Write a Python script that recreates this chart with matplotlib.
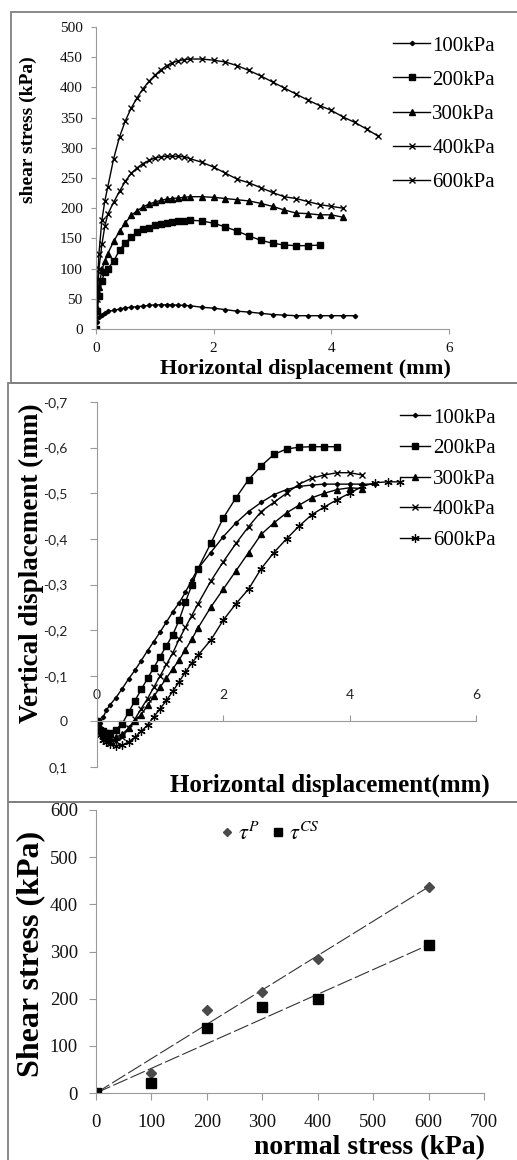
import matplotlib
matplotlib.use("Agg")
import matplotlib.pyplot as plt
from matplotlib.patches import Rectangle

W, H = 517, 1160
SERIF = "Liberation Serif"
SANS = "Lato"
plt.rcParams["font.family"] = SERIF
plt.rcParams["mathtext.fontset"] = "stix"

# displacement grid (mm) shared by the test curves
XT = [0, 0.02, 0.05, 0.1, 0.15, 0.2, 0.3, 0.4, 0.5, 0.6, 0.7, 0.8, 0.9, 1.0,
      1.1, 1.2, 1.3, 1.4, 1.5, 1.6, 1.8, 2.0, 2.2, 2.4, 2.6, 2.8, 3.0, 3.2,
      3.4, 3.6, 3.8, 4.0, 4.2, 4.4, 4.6, 4.8]
labels = ["100kPa", "200kPa", "300kPa", "400kPa", "600kPa"]

# shear stress (kPa)
s100 = [0, 12, 20, 24, 27, 29, 31, 33, 35, 36, 37, 38, 39, 40, 40, 40, 40, 39.5,
        39, 38.5, 36, 34.5, 32, 29.5, 28, 26, 24, 23, 22, 22, 22, 22, 22, 22]
s200 = [0, 30, 55, 80, 95, 100, 112, 131, 143, 152, 160, 165, 168, 172, 174, 176,
        177, 178, 179, 180, 179, 175, 169, 162, 154, 147, 142, 139, 138, 138, 139]
s300 = [0, 35, 70, 98, 112, 125, 145, 162, 176, 188, 196, 202, 207, 210, 213, 215,
        216, 217, 218, 219, 219, 218, 216, 214, 212, 208, 203, 197, 192, 191, 189,
        189, 185]
s400 = [0, 50, 100, 140, 170, 190, 210, 228, 245, 258, 267, 274, 279, 283, 285,
        286, 286, 286, 285, 282, 276, 268, 258, 248, 242, 234, 226, 219, 216, 211,
        206, 203, 200]
s600 = [0, 65, 125, 180, 212, 235, 282, 318, 345, 366, 383, 398, 410, 420, 429,
        436, 441, 444, 446, 447, 447, 445, 442, 436, 428, 419, 409, 399, 389, 379,
        370, 362, 351, 342, 331, 319]

# vertical displacement (mm), negative = dilation
v100 = [0, 0.003, 0.004, -0.01, -0.025, -0.035, -0.052, -0.072, -0.093, -0.112,
        -0.133, -0.155, -0.175, -0.196, -0.218, -0.24, -0.26, -0.283, -0.31, -0.335,
        -0.37, -0.405, -0.435, -0.46, -0.48, -0.497, -0.508, -0.515, -0.518, -0.52,
        -0.52, -0.52, -0.52, -0.52]
v200 = [0, 0.01, 0.018, 0.022, 0.025, 0.025, 0.018, 0.005, -0.02, -0.045, -0.07,
        -0.094, -0.118, -0.142, -0.166, -0.19, -0.222, -0.262, -0.298, -0.335,
        -0.39, -0.446, -0.49, -0.53, -0.56, -0.585, -0.597, -0.601, -0.602, -0.602,
        -0.602]
v300 = [0, 0.012, 0.022, 0.03, 0.034, 0.036, 0.035, 0.028, 0.015, 0.0, -0.015,
        -0.035, -0.055, -0.075, -0.095, -0.115, -0.135, -0.157, -0.18, -0.205,
        -0.25, -0.29, -0.33, -0.37, -0.41, -0.435, -0.457, -0.474, -0.49, -0.5,
        -0.508, -0.512, -0.51]
v400 = [0, 0.015, 0.028, 0.038, 0.043, 0.045, 0.043, 0.035, 0.015, -0.005, -0.028,
        -0.05, -0.075, -0.1, -0.125, -0.15, -0.18, -0.206, -0.232, -0.258, -0.307,
        -0.35, -0.39, -0.427, -0.46, -0.48, -0.5, -0.52, -0.533, -0.54, -0.545,
        -0.545, -0.54]
v600 = [0, 0.015, 0.03, 0.04, 0.046, 0.05, 0.053, 0.052, 0.045, 0.035, 0.022,
        0.008, -0.01, -0.028, -0.046, -0.066, -0.087, -0.108, -0.128, -0.145,
        -0.178, -0.222, -0.258, -0.29, -0.335, -0.37, -0.40, -0.428, -0.453, -0.47,
        -0.486, -0.50, -0.515, -0.523, -0.525, -0.525]

# failure envelope
normal = [0, 100, 200, 300, 400, 600]
tau_p = [0, 42, 177, 215, 284, 437]
tau_cs = [0, 22, 138, 183, 199, 314]
trend_x = [0, 600]
trend_p = [0, 437]
trend_cs = [0, 314]

v_ticks = [-0.7, -0.6, -0.5, -0.4, -0.3, -0.2, -0.1, 0, 0.1]
v_ticklabels = ["-0,7", "-0,6", "-0,5", "-0,4", "-0,3", "-0,2", "-0,1", "0", "0,1"]

GRID = "#9a9a9a"
STAR = (6, 2, 0)
styles = [dict(marker="D", ms=2.2), dict(marker="s", ms=4),
          dict(marker="^", ms=5), dict(marker="x", ms=5, mew=1),
          dict(marker="x", ms=5, mew=1)]
styles_mid = styles[:4] + [dict(marker=STAR, ms=6, mew=0.9)]


def fx(px):
    return px / W


def fy(py):
    return 1 - py / H


def axes_px(left, top, right, bottom):
    return [fx(left), fy(bottom), (right - left) / W, (bottom - top) / H]


fig = plt.figure(figsize=(W / 100, H / 100), dpi=100)

# panel frames
for (l, t, b) in [(11, 12, 383), (8, 383, 802), (8, 802, 1175)]:
    fig.add_artist(Rectangle((fx(l), fy(b)), 1.2, (b - t) / H, transform=fig.transFigure,
                             fill=False, ec="#808080", lw=1.3))

# ---- panel 1: shear stress vs horizontal displacement
ax1 = fig.add_axes(axes_px(96, 27, 449, 329))
for y, lab, st in zip([s100, s200, s300, s400, s600], labels, styles):
    ax1.plot(XT[:len(y)], y, color="black", lw=1.0, label=lab, **st)
ax1.set_xlim(0, 6)
ax1.set_ylim(0, 500)
ax1.set_xticks([0, 2, 4, 6])
ax1.set_yticks(range(0, 501, 50))
ax1.tick_params(color=GRID, labelcolor="#111", labelsize=11, length=3.5, pad=6)
for s in ["top", "right"]:
    ax1.spines[s].set_visible(False)
for s in ["left", "bottom"]:
    ax1.spines[s].set_color(GRID)
ax1.legend(loc="upper left", bbox_to_anchor=(fx(393), fy(36)), bbox_transform=fig.transFigure,
           frameon=False, fontsize=15, handlelength=1.78, handletextpad=0.1,
           labelspacing=0.7, borderpad=0, borderaxespad=0)
fig.text(fx(305), fy(369), "Horizontal displacement (mm)", ha="center", va="center",
         fontsize=16, fontweight="bold")
fig.text(fx(28), fy(130), "shear stress (kPa)", ha="center", va="center",
         rotation=90, fontsize=14, fontweight="bold")

# ---- panel 2: vertical vs horizontal displacement
ax2 = fig.add_axes(axes_px(97, 402, 476, 767))
for y, lab, st in zip([v100, v200, v300, v400, v600], labels, styles_mid):
    ax2.plot(XT[:len(y)], y, color="black", lw=1.0, label=lab, **st)
ax2.set_xlim(0, 6)
ax2.set_ylim(0.1, -0.7)
ax2.spines["top"].set_position(("data", 0))
ax2.xaxis.tick_top()
ax2.set_xticks([0, 2, 4, 6])
ax2.set_yticks(v_ticks)
ax2.set_yticklabels(v_ticklabels)
ax2.tick_params(axis="y", color=GRID, labelcolor="#222", length=5, pad=16)
ax2.tick_params(axis="x", color=GRID, labelcolor="#222", length=4, pad=11)
for lab in ax2.get_xticklabels() + ax2.get_yticklabels():
    lab.set_family(SANS)
    lab.set_fontsize(10)
for s in ["bottom", "right"]:
    ax2.spines[s].set_visible(False)
for s in ["left", "top"]:
    ax2.spines[s].set_color(GRID)
ax2.legend(loc="upper left", bbox_to_anchor=(fx(400), fy(408)), bbox_transform=fig.transFigure,
           frameon=False, fontsize=15, handlelength=1.45, handletextpad=0.12,
           labelspacing=0.53, borderpad=0, borderaxespad=0)
fig.text(fx(330), fy(785), "Horizontal displacement(mm)", ha="center", va="center",
         fontsize=18, fontweight="bold")
fig.text(fx(31), fy(563), "Vertical displacement (mm)", ha="center", va="center",
         rotation=90, fontsize=19.5, fontweight="bold")

# ---- panel 3: shear stress vs normal stress
ax3 = fig.add_axes(axes_px(96, 810, 484, 1093))
ax3.plot(trend_x, trend_p, color="#333", lw=0.8, dashes=(14, 3))
ax3.plot(trend_x, trend_cs, color="#333", lw=0.8, dashes=(14, 3))
ax3.plot(normal, tau_p, ls="none", marker="D", ms=5, color="#4a4a4a", label=r"$\tau^{P}$")
ax3.plot(normal, tau_cs, ls="none", marker="s", ms=7.5, color="black", label=r"$\tau^{CS}$")
ax3.set_xlim(0, 700)
ax3.set_ylim(0, 600)
ax3.set_xticks(range(0, 701, 100))
ax3.set_yticks(range(0, 601, 100))
ax3.tick_params(color=GRID, labelcolor="#111", labelsize=13.5, length=5)
ax3.tick_params(axis="x", pad=10)
ax3.tick_params(axis="y", pad=8)
for s in ["top", "right"]:
    ax3.spines[s].set_visible(False)
for s in ["left", "bottom"]:
    ax3.spines[s].set_color(GRID)
leg = ax3.legend(loc="upper left", bbox_to_anchor=(fx(218), fy(822)), bbox_transform=fig.transFigure,
                 frameon=False, fontsize=16, ncol=2, handlelength=0.8, handletextpad=0.1,
                 columnspacing=0.4, borderpad=0, borderaxespad=0, markerscale=0.8)
fig.text(fx(370), fy(1148), "normal stress (kPa)", ha="center", va="center",
         fontsize=20, fontweight="bold")
fig.text(fx(31), fy(954), "Shear stress (kPa)", ha="center", va="center",
         rotation=90, fontsize=23, fontweight="bold")

fig.savefig("out.png", dpi=100)
